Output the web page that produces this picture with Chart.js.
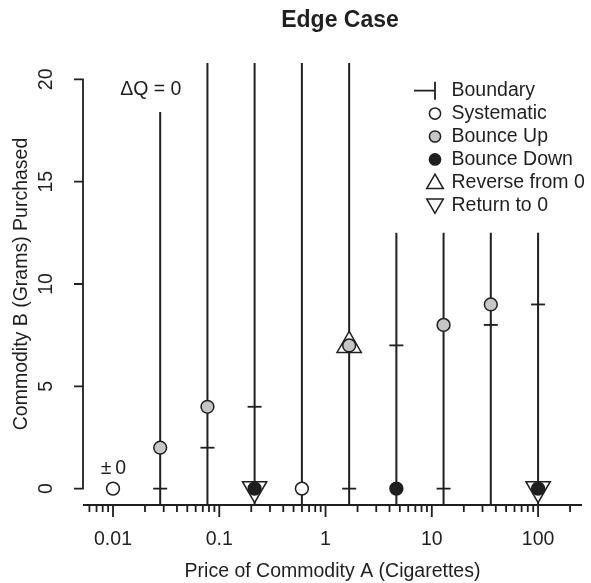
<!DOCTYPE html>
<html>
<head>
<meta charset="utf-8">
<script src="https://cdn.jsdelivr.net/npm/chart.js@4.4.1/dist/chart.umd.min.js"></script>
<style>
html,body{margin:0;padding:0;background:#fff;}
#wrap{width:591px;height:583px;}
</style>
</head>
<body>
<div id="wrap"><canvas id="c" width="591" height="583"></canvas></div>
<script>
// ---- data ----
const prices      = [0.01, 0.0278, 0.0774, 0.215, 0.599, 1.668, 4.64, 12.9, 35.9, 100];
const consumption = [0, 2, 4, 0, 0, 7, 0, 8, 9, 0];
const pointKind   = ['systematic','bounceUp','bounceUp','returnTo0','systematic','reverseFrom0','bounceDown','bounceUp','bounceUp','returnTo0'];
const boundary    = [null, 0, 2, 4, 0, 0, 7, 0, 8, 9];
const rangeTop    = [null, 18.4, 25, 25, 25, 25, 12.5, 12.5, 12.5, 12.5];
const yTicks      = [0, 5, 10, 15, 20];
const xTickValues = [0.01, 0.1, 1, 10, 100];
const xTickLabels = ['0.01', '0.1', '1', '10', '100'];
const legendLabels = ['Boundary', 'Systematic', 'Bounce Up', 'Bounce Down', 'Reverse from 0', 'Return to 0'];
const annotations = [
  {text: '\u0394Q = 0', x: 0.0227, y: 19.5},
  {text: '\u00b1\u20090', x: 0.0101, y: 1.0}
];

// ---- axis ranges & styles ----
const xMin = 0.00522, xMax = 259, yMin = -0.8, yMax = 20.8;
const INK = '#1f1f1f';
const GRAY = '#c6c6c6';
const FONT = '"Liberation Sans", Arial, Helvetica, sans-serif';
Chart.defaults.font.family = FONT;
Chart.defaults.color = INK;

const kindFill = {systematic: '#ffffff', bounceUp: GRAY, bounceDown: INK, returnTo0: INK, reverseFrom0: GRAY};

const circleData = prices.map((p, i) => ({x: p, y: consumption[i]}));
const circleFill = pointKind.map(k => kindFill[k]);

const triData = [], triRot = [];
prices.forEach((p, i) => {
  if (pointKind[i] === 'returnTo0') { triData.push({x: p, y: consumption[i]}); triRot.push(180); }
  if (pointKind[i] === 'reverseFrom0') { triData.push({x: p, y: consumption[i]}); triRot.push(0); }
});

const boundaryData = [];
prices.forEach((p, i) => { if (boundary[i] !== null) boundaryData.push({x: p, y: boundary[i]}); });

const rangeData = [];
prices.forEach((p, i) => {
  if (rangeTop[i] === null) return;
  rangeData.push({x: p, y: yMin}, {x: p, y: rangeTop[i]}, {x: p, y: null});
});

function xTickPositions() {
  const out = [];
  for (let e = -3; e <= 3; e++) {
    for (let m = 1; m <= 9; m++) {
      const v = m * Math.pow(10, e);
      if (v >= xMin && v <= xMax) out.push({value: v, major: m === 1});
    }
  }
  return out;
}
function labelFor(v) {
  for (let i = 0; i < xTickValues.length; i++) {
    if (Math.abs(Math.log10(v / xTickValues[i])) < 1e-6) return xTickLabels[i];
  }
  return '';
}

// ---- plugins ----
const titleShift = {
  id: 'titleShift',
  afterLayout(chart) {
    if (chart.titleBlock) { chart.titleBlock.left += 7.5; chart.titleBlock.right += 7.5; }
  }
};

const axesPlugin = {
  id: 'axesLines',
  afterDraw(chart) {
    const {ctx, chartArea: a, scales: {x, y}} = chart;
    ctx.save();
    ctx.strokeStyle = INK;
    ctx.lineWidth = 1.8;
    ctx.lineCap = 'butt';
    ctx.beginPath();
    const yb = y.getPixelForValue(yTicks[0]);
    const yt = y.getPixelForValue(yTicks[yTicks.length - 1]);
    ctx.moveTo(a.left, yb + 0.9); ctx.lineTo(a.left, yt - 0.9);
    yTicks.forEach(v => {
      const py = y.getPixelForValue(v);
      ctx.moveTo(a.left + 0.9, py); ctx.lineTo(a.left - 9, py);
    });
    ctx.moveTo(a.left, a.bottom); ctx.lineTo(a.right, a.bottom);
    x.ticks.forEach(t => {
      const px = x.getPixelForValue(t.value);
      const len = t.major ? 12 : 7;
      ctx.moveTo(px, a.bottom); ctx.lineTo(px, a.bottom + len);
    });
    ctx.stroke();
    ctx.restore();
  }
};

function triPath(ctx, cx, cy, r, rotDeg) {
  let rad = rotDeg * Math.PI / 180;
  ctx.beginPath();
  for (let k = 0; k < 3; k++) {
    const px = cx + Math.sin(rad) * r, py = cy - Math.cos(rad) * r;
    if (k === 0) ctx.moveTo(px, py); else ctx.lineTo(px, py);
    rad += 2 * Math.PI / 3;
  }
  ctx.closePath();
}

const overlayPlugin = {
  id: 'overlay',
  afterDraw(chart) {
    const {ctx, chartArea: a, scales: {x, y}} = chart;
    ctx.save();
    ctx.font = '19.5px ' + FONT;
    ctx.fillStyle = INK;
    ctx.textAlign = 'center';
    ctx.textBaseline = 'middle';
    annotations.forEach(an => {
      ctx.fillText(an.text, x.getPixelForValue(an.x), y.getPixelForValue(an.y));
    });

    // legend
    const sx = a.right - 147, tx = a.right - 130.5, y0 = a.top + 27.7, dy = 22.9;
    ctx.lineWidth = 1.5;
    ctx.strokeStyle = INK;
    legendLabels.forEach((lab, i) => {
      const cy = y0 + i * dy;
      if (i === 0) {
        ctx.lineWidth = 1.8;
        ctx.beginPath();
        ctx.moveTo(sx - 21, cy); ctx.lineTo(sx, cy);
        ctx.moveTo(sx, cy - 9); ctx.lineTo(sx, cy + 9);
        ctx.stroke();
        ctx.lineWidth = 1.5;
      } else if (i <= 3) {
        ctx.beginPath();
        ctx.arc(sx, cy, 5.6, 0, Math.PI * 2);
        ctx.fillStyle = i === 1 ? '#ffffff' : (i === 2 ? GRAY : INK);
        ctx.fill(); ctx.stroke();
      } else {
        triPath(ctx, sx, cy + (i === 4 ? 1.5 : -1.5), 9.6, i === 4 ? 0 : 180);
        ctx.fillStyle = '#ffffff';
        ctx.fill(); ctx.stroke();
      }
      ctx.fillStyle = INK;
      ctx.textAlign = 'left';
      ctx.fillText(lab, tx, cy);
    });
    ctx.restore();
  }
};

new Chart(document.getElementById('c'), {
  type: 'scatter',
  data: {
    datasets: [
      {
        label: 'range', type: 'line', data: rangeData, showLine: true,
        borderColor: INK, borderWidth: 2, pointRadius: 0, pointHoverRadius: 0,
        spanGaps: false, fill: false, clip: 0, order: 10
      },
      {
        label: 'Boundary', data: boundaryData, pointStyle: 'line',
        pointRadius: 7, pointHoverRadius: 7, pointBorderColor: INK, pointBorderWidth: 1.8,
        pointHoverBorderWidth: 1.8, order: 8, clip: false
      },
      {
        label: 'triangles', data: triData, pointStyle: 'triangle', pointRotation: triRot,
        pointRadius: 14, pointHoverRadius: 14, pointBackgroundColor: '#ffffff',
        pointBorderColor: INK, pointBorderWidth: 1.5, pointHoverBorderWidth: 1.5, order: 5, clip: false
      },
      {
        label: 'circles', data: circleData, pointStyle: 'circle',
        pointRadius: 6.4, pointHoverRadius: 6.4, pointBackgroundColor: circleFill,
        pointBorderColor: INK, pointBorderWidth: 1.5, pointHoverBorderWidth: 1.5, order: 1, clip: false
      }
    ]
  },
  options: {
    responsive: false,
    animation: false,
    events: [],
    layout: {autoPadding: false, padding: {left: 0, right: 9, top: 0, bottom: 0}},
    plugins: {
      legend: {display: false},
      tooltip: {enabled: false},
      title: {
        display: true, text: 'Edge Case', fullSize: false, color: INK,
        font: {size: 23, weight: 'bold'}, padding: {top: 7.2, bottom: 28.2}
      }
    },
    scales: {
      x: {
        type: 'logarithmic', min: xMin, max: xMax, position: 'bottom',
        grid: {display: false, drawTicks: true, tickLength: 23}, border: {display: false},
        afterBuildTicks: s => { s.ticks = xTickPositions(); },
        afterFit: s => { s.height = 78; s.paddingLeft = 0; s.paddingRight = 0; },
        ticks: {autoSkip: false, maxRotation: 0, minRotation: 0, padding: 0, color: INK,
                font: {size: 19.5}, callback: v => labelFor(v)},
        title: {display: true, text: 'Price of Commodity A (Cigarettes)', color: INK,
                font: {size: 19.5}, padding: {top: 0, bottom: 0}}
      },
      y: {
        type: 'linear', min: yMin, max: yMax, position: 'left',
        grid: {display: false, drawTicks: false}, border: {display: false},
        afterBuildTicks: s => { s.ticks = yTicks.map(v => ({value: v})); },
        afterFit: s => { s.width = 83; s.paddingTop = 0; s.paddingBottom = 0; },
        ticks: {minRotation: 90, maxRotation: 90, crossAlign: 'center', padding: 26,
                color: INK, font: {size: 19.5}},
        title: {display: true, text: 'Commodity B (Grams) Purchased', color: INK,
                font: {size: 19.5}, padding: {top: 10.3, bottom: 0}}
      }
    }
  },
  plugins: [titleShift, axesPlugin, overlayPlugin]
});
</script>
</body>
</html>
